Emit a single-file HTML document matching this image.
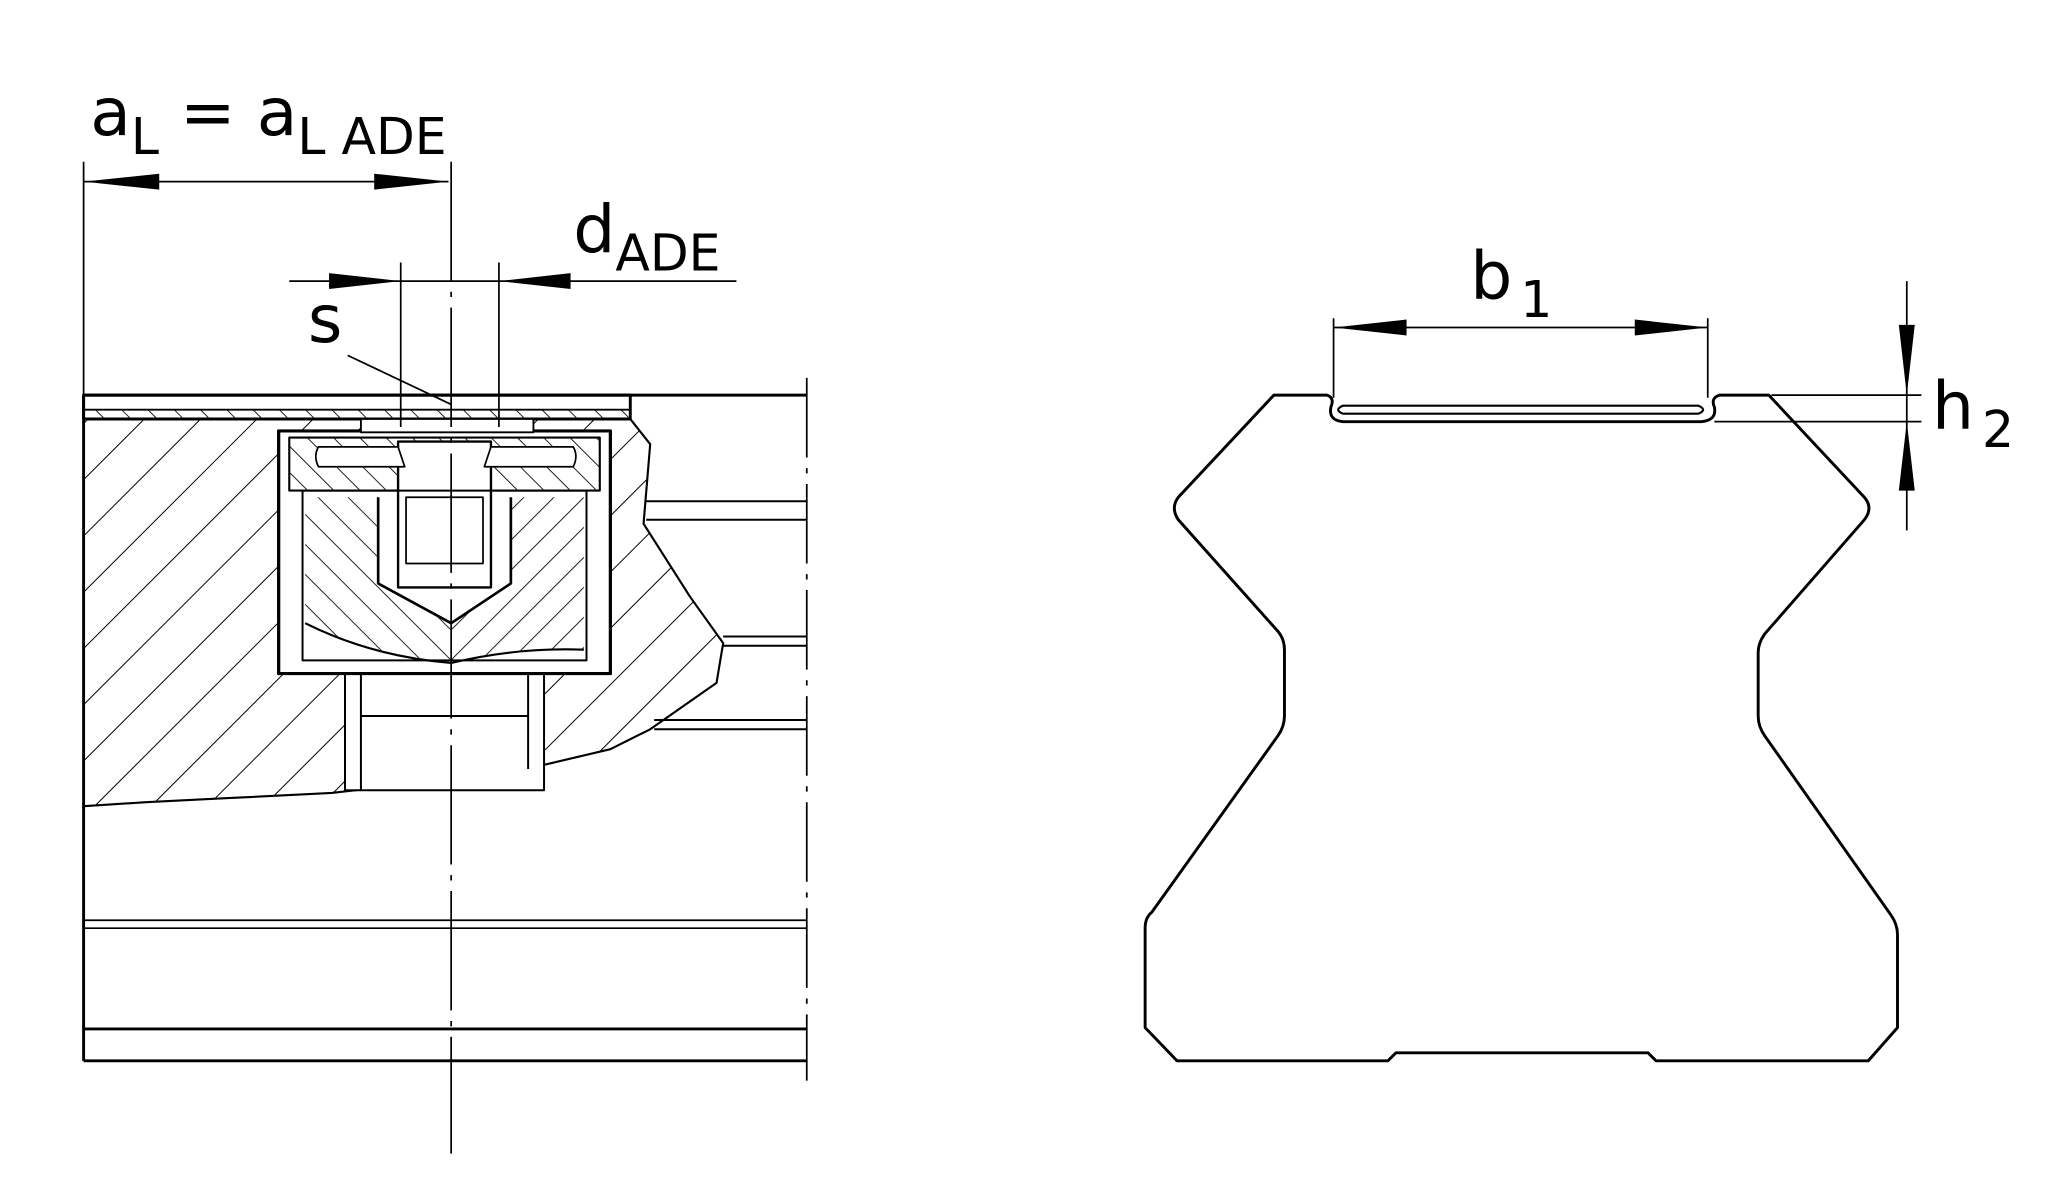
<!DOCTYPE html>
<html><head><meta charset="utf-8"><style>
html,body{margin:0;padding:0;background:#fff;}
svg{display:block;}
text{font-family:"DejaVu Sans","Liberation Sans",sans-serif;fill:#000;}
</style></head><body>
<svg width="2070" height="1200" viewBox="0 0 1560 905" preserveAspectRatio="none" xmlns="http://www.w3.org/2000/svg">
<defs>
<pattern id="h1" patternUnits="userSpaceOnUse" width="30" height="30" patternTransform="rotate(45)">
<line x1="0" y1="0" x2="0" y2="30" stroke="#000" stroke-width="1.5"/></pattern>
<pattern id="h2" patternUnits="userSpaceOnUse" width="14" height="14" patternTransform="rotate(-45)">
<line x1="0" y1="0" x2="0" y2="14" stroke="#000" stroke-width="1.3"/></pattern>
<pattern id="h3" patternUnits="userSpaceOnUse" width="16" height="16" patternTransform="rotate(45)">
<line x1="0" y1="0" x2="0" y2="16" stroke="#000" stroke-width="1.3"/></pattern>
<pattern id="h4" patternUnits="userSpaceOnUse" width="16" height="16" patternTransform="rotate(-45)">
<line x1="0" y1="0" x2="0" y2="16" stroke="#000" stroke-width="1.3"/></pattern>
</defs>
<g fill="none" stroke="#000" stroke-width="2.2" stroke-linejoin="round">
<path d="M63,316 L475,316 L490,335 L485,395 L520,450 L545,485 L540,515 L490,550 L460,565 L405,578 L340,580 L320,590 L250,598 L170,602 L110,605 L63,608 Z" fill="url(#h1)" stroke-width="1.6"/>
<rect x="210" y="325" width="250" height="183" fill="#fff"/>
<rect x="260" y="508" width="150" height="88" fill="#fff" stroke-width="1.5"/>
<line x1="272" y1="508" x2="272" y2="596" stroke-width="1.5"/>
<line x1="398" y1="508" x2="398" y2="580" stroke-width="1.5"/>
<line x1="272" y1="540" x2="398" y2="540" stroke-width="1.5"/>
<path d="M230,375 L285,375 L285,440 L340,470 L340,500 Q280,495 230,470 Z" fill="url(#h4)" stroke="none"/>
<path d="M340,470 L385,440 L385,375 L440,375 L440,490 Q390,488 340,500 Z" fill="url(#h3)" stroke="none"/>
<path d="M285,375 L285,440 L340,470 L385,440 L385,375" fill="none" stroke-width="2"/>
<path d="M230,470 Q280,495 340,500 Q390,488 440,490" stroke-width="1.6"/>
<path d="M218,330 L452,330 L452,370 L218,370 Z" fill="url(#h2)" stroke-width="1.6"/>
<rect x="300" y="333" width="70" height="110" fill="#fff" stroke-width="1.8"/>
<rect x="306" y="375" width="58" height="50" fill="#fff" stroke-width="1.3"/>
<path d="M240,337 L300,337 L305,352 L300,352 L240,352 Q236,344 240,337 Z" fill="#fff" stroke-width="1.3"/>
<path d="M370,337 L432,337 Q436,344 432,352 L365,352 Z" fill="#fff" stroke-width="1.3"/>
<rect x="210" y="325" width="250" height="183" stroke-width="2.4"/>
<rect x="228" y="370" width="214" height="128" stroke-width="1.5"/>
<rect x="63" y="298" width="412" height="18" fill="#fff"/>
<rect x="63" y="309" width="412" height="7" fill="url(#h2)" stroke-width="1.4"/>
<rect x="272" y="316" width="130" height="10" fill="#fff" stroke-width="1.4"/>
<line x1="63" y1="298" x2="608" y2="298"/>
<line x1="63" y1="122" x2="63" y2="800" stroke-width="1.3"/>
<line x1="63" y1="298" x2="63" y2="800"/>
<line x1="63" y1="776" x2="608" y2="776"/>
<line x1="63" y1="800" x2="608" y2="800"/>
<line x1="63" y1="694" x2="608" y2="694" stroke-width="1.3"/>
<line x1="63" y1="700" x2="608" y2="700" stroke-width="1.3"/>
<line x1="487" y1="378" x2="608" y2="378" stroke-width="1.5"/>
<line x1="487" y1="392" x2="608" y2="392" stroke-width="1.5"/>
<line x1="545" y1="480" x2="608" y2="480" stroke-width="1.5"/>
<line x1="545" y1="487" x2="608" y2="487" stroke-width="1.5"/>
<line x1="493" y1="543" x2="608" y2="543" stroke-width="1.5"/>
<line x1="493" y1="550" x2="608" y2="550" stroke-width="1.5"/>
<line x1="608" y1="285" x2="608" y2="815" stroke-width="1.3" stroke-dasharray="60,8,4,8"/>
<line x1="340" y1="122" x2="340" y2="870" stroke-width="1.3" stroke-dasharray="90,8,4,8"/>
<line x1="63" y1="137" x2="338" y2="137" stroke-width="1.3"/>
<line x1="218" y1="212" x2="555" y2="212" stroke-width="1.3"/>
<line x1="302" y1="198" x2="302" y2="322" stroke-width="1.3"/>
<line x1="376" y1="198" x2="376" y2="322" stroke-width="1.3"/>
<line x1="262" y1="268" x2="340" y2="305" stroke-width="1.3"/>
<path d="M960,298 L1000,298 Q1006,300 1003,307 Q1001,317 1012,318 L1282,318 Q1294,317 1292,307 Q1289,300 1296,298 L1333,298 L1405,375 Q1412,383 1405,392 L1330,478 Q1325,485 1325,492 L1325,540 Q1325,548 1330,555 L1425,690 Q1430,697 1430,705 L1430,775 L1408,800 L1248,800 L1242,794 L1052,794 L1046,800 L887,800 L863,775 L863,700 Q863,692 868,688 L963,555 Q968,548 968,540 L968,490 Q968,482 963,476 L888,392 Q882,383 888,375 Z"/>
<path d="M1012,306 L1280,306 Q1287,309 1280,312 L1012,312 Q1005,309 1012,306 Z" stroke-width="1.6"/>
<line x1="1005" y1="240" x2="1005" y2="300" stroke-width="1.3"/>
<line x1="1287" y1="240" x2="1287" y2="300" stroke-width="1.3"/>
<line x1="1005" y1="247" x2="1287" y2="247" stroke-width="1.3"/>
<line x1="1335" y1="298" x2="1448" y2="298" stroke-width="1.3"/>
<line x1="1292" y1="318" x2="1448" y2="318" stroke-width="1.3"/>
<line x1="1437" y1="212" x2="1437" y2="400" stroke-width="1.3"/>
</g>
<g fill="#000">
<polygon points="63,137 120,131 120,143"/>
<polygon points="338,137 282,131 282,143"/>
<polygon points="302,212 248,206 248,218"/>
<polygon points="376,212 430,206 430,218"/>
<polygon points="1005,247 1060,241 1060,253"/>
<polygon points="1287,247 1232,241 1232,253"/>
<polygon points="1437,298 1431,245 1443,245"/>
<polygon points="1437,318 1431,370 1443,370"/>
</g>
<text x="68" y="102" font-size="50">a<tspan font-size="38" dy="14">L</tspan><tspan dy="-14"> = a</tspan><tspan font-size="38" dy="14">L ADE</tspan></text>
<text x="432" y="190" font-size="50">d<tspan font-size="38" dy="14">ADE</tspan></text>
<text x="232" y="258" font-size="50">s</text>
<text x="1108" y="225" font-size="50">b<tspan font-size="38" dx="6" dy="14">1</tspan></text>
<text x="1456" y="323" font-size="50">h<tspan font-size="38" dx="6" dy="14">2</tspan></text>
</svg>
</body></html>
